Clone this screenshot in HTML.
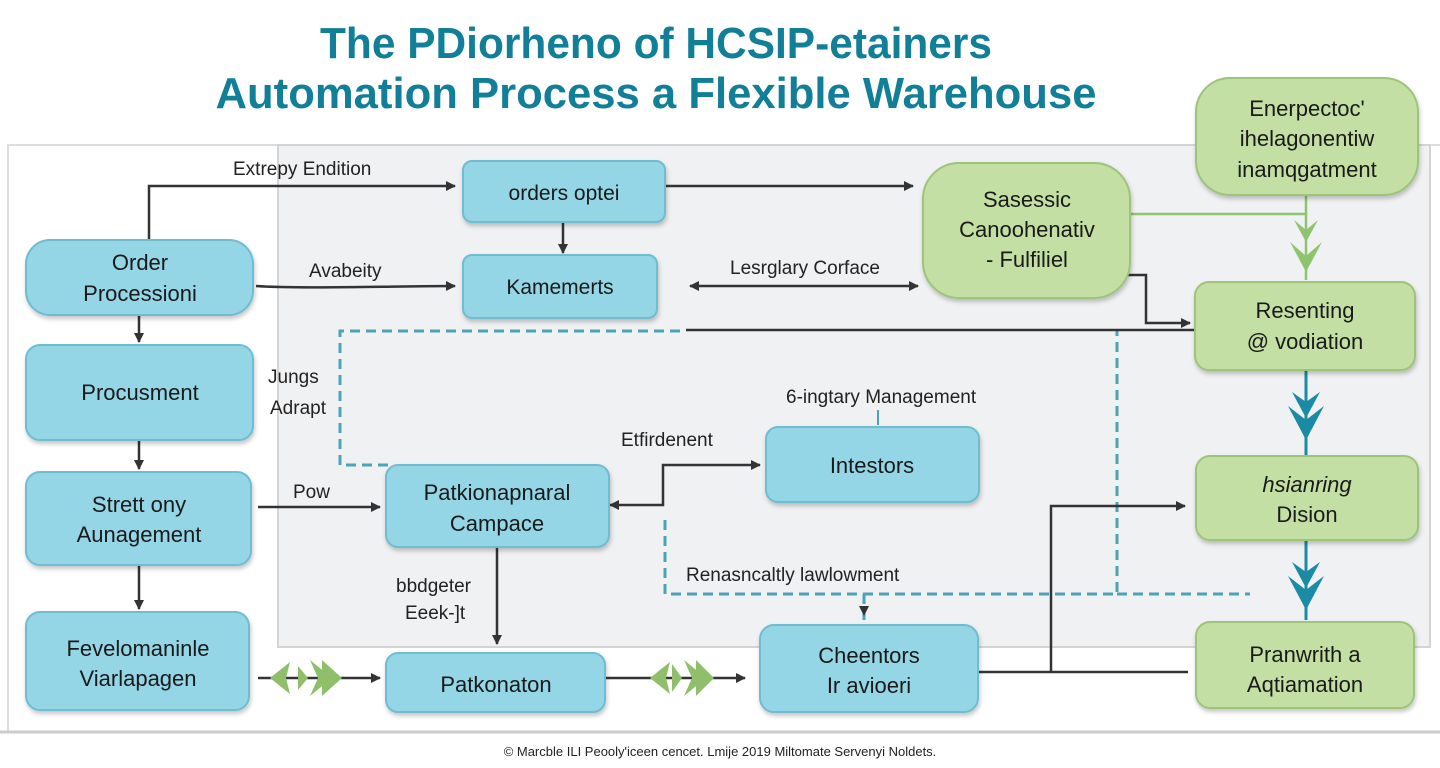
<!DOCTYPE html>
<html><head><meta charset="utf-8"><style>
html,body{margin:0;padding:0;background:#fff;width:1440px;height:768px;overflow:hidden}
svg{display:block}
text{font-family:"Liberation Sans",sans-serif}
</style></head><body>
<svg width="1440" height="768" viewBox="0 0 1440 768" xmlns="http://www.w3.org/2000/svg">
<defs>
<marker id="a" markerWidth="10" markerHeight="10" refX="9" refY="5" orient="auto" markerUnits="userSpaceOnUse"><path d="M0,0 L10,5 L0,10 z" fill="#333"/></marker>
<marker id="b" markerWidth="10" markerHeight="10" refX="1" refY="5" orient="auto" markerUnits="userSpaceOnUse"><path d="M10,0 L0,5 L10,10 z" fill="#333"/></marker>
<filter id="s" x="-10%" y="-10%" width="130%" height="130%"><feDropShadow dx="1" dy="3" stdDeviation="2" flood-color="#000" flood-opacity="0.22"/></filter>
</defs>
<rect width="1440" height="768" fill="#fff"/>
<!-- title -->
<text x="656" y="58" text-anchor="middle" font-size="44" font-weight="bold" fill="#127f99" textLength="672" lengthAdjust="spacingAndGlyphs">The PDiorheno of HCSIP-etainers</text>
<text x="656" y="108" text-anchor="middle" font-size="44" font-weight="bold" fill="#127f99" textLength="881" lengthAdjust="spacingAndGlyphs">Automation Process a Flexible Warehouse</text>
<!-- frames -->
<rect x="8" y="145" width="1440" height="587" fill="#fff" stroke="#ddd" stroke-width="2"/>
<line x1="0" y1="732" x2="1440" y2="732" stroke="#ccc" stroke-width="3"/>
<rect x="278" y="145" width="1152" height="502" fill="#f0f1f2" stroke="#d4d4d4" stroke-width="2"/>
<!-- dashed -->
<g fill="none" stroke="#4aa3b8" stroke-width="3" stroke-dasharray="10,6">
<polyline points="680,331 340,331 340,465 390,465"/>
<polyline points="665,520 665,594 1117,594 1117,331"/>
<line x1="1117" y1="594" x2="1250" y2="594"/>
<line x1="864" y1="594" x2="864" y2="620"/>
</g>
<path d="M864,606 l-5,0 l5,10 l5,-10 z" fill="#333"/>
<!-- connectors -->
<g fill="none" stroke="#333" stroke-width="2.5">
<polyline points="149,240 149,186 455,186" marker-end="url(#a)"/>
<line x1="665" y1="186" x2="913" y2="186" marker-end="url(#a)"/>
<line x1="563" y1="222" x2="563" y2="253" marker-end="url(#a)"/>
<path d="M256,286 C300,289 400,286 455,286" marker-end="url(#a)"/>
<line x1="690" y1="286" x2="918" y2="286" marker-start="url(#b)" marker-end="url(#a)"/>
<line x1="686" y1="330" x2="1195" y2="330"/>
<polyline points="1128,275 1146,275 1146,323 1190,323" marker-end="url(#a)"/>
<line x1="139" y1="316" x2="139" y2="342" marker-end="url(#a)"/>
<line x1="139" y1="441" x2="139" y2="469" marker-end="url(#a)"/>
<line x1="139" y1="566" x2="139" y2="609" marker-end="url(#a)"/>
<line x1="258" y1="507" x2="380" y2="507" marker-end="url(#a)"/>
<polyline points="610,505 663,505 663,465 760,465" marker-start="url(#b)" marker-end="url(#a)"/>
<line x1="497" y1="548" x2="497" y2="644" marker-end="url(#a)"/>
<line x1="258" y1="678" x2="380" y2="678" marker-end="url(#a)"/>
<line x1="606" y1="678" x2="745" y2="678" marker-end="url(#a)"/>
<polyline points="979,672 1188,672"/>
<polyline points="1051,672 1051,506 1185,506" marker-end="url(#a)"/>
</g>
<line x1="878" y1="410" x2="878" y2="425" stroke="#4aa3b8" stroke-width="2"/>
<!-- green feathers -->
<g fill="#8fbf6a">
<path d="M270,678 l20,-16 l-4,16 l4,16 z M298,666 l10,12 l-10,12 z M310,660 l22,18 l-22,18 l8,-18 z M322,660 l20,18 l-20,18 z"/>
<path d="M650,678 l20,-16 l-4,16 l4,16 z M672,664 l10,14 l-10,14 z M684,660 l22,18 l-22,18 l8,-18 z M696,660 l18,18 l-18,18 z"/>
</g>
<g fill="none" stroke="#8fc46e" stroke-width="2.5">
<polyline points="1130,214 1306,214 1306,280"/>
<line x1="1306" y1="195" x2="1306" y2="214"/>
</g>
<path d="M1306,272 l-16,-30 l16,14 l16,-14 z M1306,242 l-12,-22 l12,10 l12,-10 z" fill="#8fc46e"/>
<g stroke="#1a8aa5" stroke-width="3" fill="none"><line x1="1306" y1="370" x2="1306" y2="455"/><line x1="1306" y1="540" x2="1306" y2="620"/></g>
<path d="M1306,440 l-18,-34 l18,14 l18,-14 z M1306,418 l-14,-26 l14,10 l14,-10 z M1306,610 l-18,-34 l18,14 l18,-14 z M1306,588 l-14,-26 l14,10 l14,-10 z" fill="#1a8aa5"/>
<!-- blue nodes -->
<g fill="#94d6e6" stroke="#6fbcd0" stroke-width="2" filter="url(#s)">
<rect x="26" y="240" width="227" height="75" rx="24"/>
<rect x="26" y="345" width="227" height="95" rx="14"/>
<rect x="26" y="472" width="225" height="93" rx="14"/>
<rect x="26" y="612" width="223" height="98" rx="14"/>
<rect x="463" y="161" width="202" height="61" rx="9"/>
<rect x="463" y="255" width="194" height="63" rx="9"/>
<rect x="386" y="465" width="223" height="82" rx="12"/>
<rect x="766" y="427" width="213" height="75" rx="12"/>
<rect x="386" y="653" width="219" height="59" rx="12"/>
<rect x="760" y="625" width="218" height="87" rx="14"/>
</g>
<!-- green nodes -->
<g fill="#c3dfa3" stroke="#9cc47a" stroke-width="2" filter="url(#s)">
<rect x="923" y="163" width="207" height="135" rx="36"/>
<rect x="1196" y="78" width="222" height="117" rx="34"/>
<rect x="1195" y="282" width="220" height="88" rx="14"/>
<rect x="1196" y="456" width="222" height="84" rx="14"/>
<rect x="1196" y="622" width="218" height="86" rx="14"/>
</g>
<!-- node text -->
<g font-size="22" fill="#1a1a1a" text-anchor="middle">
<text x="140" y="270">Order</text><text x="140" y="301">Processioni</text>
<text x="140" y="400">Procusment</text>
<text x="139" y="512">Strett ony</text><text x="139" y="542">Aunagement</text>
<text x="138" y="656">Fevelomaninle</text><text x="138" y="686">Viarlapagen</text>
<text x="564" y="200" font-size="21">orders optei</text>
<text x="560" y="294" font-size="21">Kamemerts</text>
<text x="497" y="500">Patkionapnaral</text><text x="497" y="531">Campace</text>
<text x="872" y="473">Intestors</text>
<text x="496" y="692">Patkonaton</text>
<text x="869" y="663">Cheentors</text><text x="869" y="693">Ir avioeri</text>
<text x="1027" y="207">Sasessic</text><text x="1027" y="237">Canoohenativ</text><text x="1027" y="267">- Fulfiliel</text>
<text x="1307" y="116">Enerpectoc'</text><text x="1307" y="146">ihelagonentiw</text><text x="1307" y="177">inamqgatment</text>
<text x="1305" y="318">Resenting</text><text x="1305" y="349">@ vodiation</text>
<text x="1307" y="492" font-style="italic">hsianring</text><text x="1307" y="522">Dision</text>
<text x="1305" y="662">Pranwrith a</text><text x="1305" y="692">Aqtiamation</text>
</g>
<!-- edge labels -->
<g font-size="19" fill="#222">
<text x="233" y="175">Extrepy Endition</text>
<text x="309" y="277">Avabeity</text>
<text x="730" y="274">Lesrglary Corface</text>
<text x="268" y="383">Jungs</text>
<text x="270" y="414">Adrapt</text>
<text x="786" y="403">6-ingtary Management</text>
<text x="621" y="446">Etfirdenent</text>
<text x="293" y="498">Pow</text>
<text x="396" y="592">bbdgeter</text>
<text x="405" y="619">Eeek-]t</text>
<text x="686" y="581">Renasncaltly lawlowment</text>
</g>
<text x="720" y="756" text-anchor="middle" font-size="13" fill="#222">© Marcble ILI Peooly'iceen cencet. Lmije 2019 Miltomate Servenyi Noldets.</text>
</svg>
</body></html>
